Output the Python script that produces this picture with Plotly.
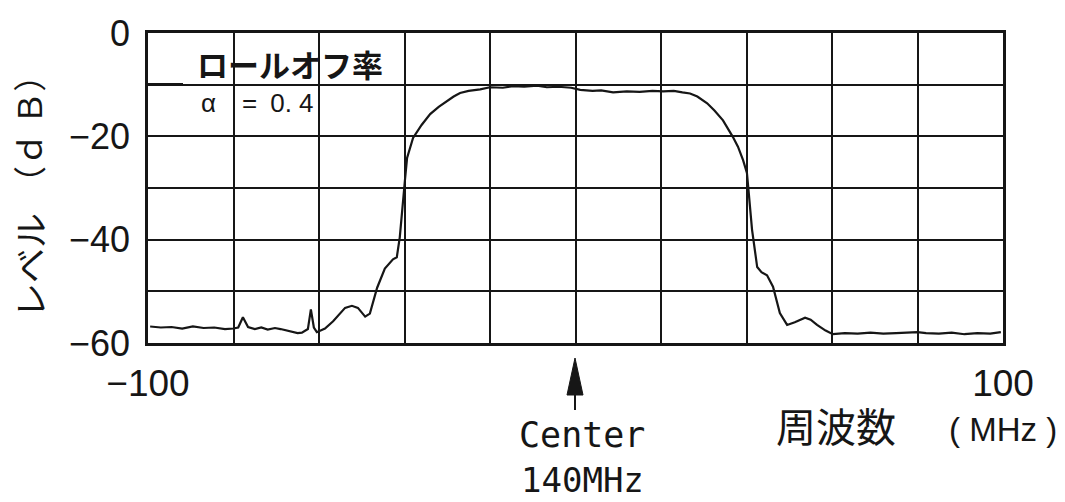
import plotly.graph_objects as go

# ---- data ----
freq_mhz = [-99.5, -97, -94.5, -92, -89.5, -87, -84.5, -82, -80, -78.9, -77.8, -76.6, -75, -73.5,
            -72, -70.3, -69, -68, -66.5, -65, -64, -62.6, -61.9, -61.2, -60.5, -58.6, -56.7, -55,
            -53.9, -52.3, -50.9, -49.2, -48.1, -46.4, -44.6, -42.7, -41.8, -41.1, -40.4, -39.9,
            -39.4, -38.0, -36, -34.0, -32, -30.1, -28.5, -27.0, -25, -22.3, -20, -17, -14.6, -12,
            -9, -6.7, -4, -1, 1.1, 4, 6, 8.8, 12, 15, 18, 20.5, 23, 25, 26.8, 28.5, 30.8, 32.5,
            34.5, 36.8, 38, 39.2, 40.1, 40.4, 41.3, 42.5, 43.5, 44.8, 46.2, 47.8, 49.5, 51.3, 53.7,
            55, 56.5, 58.5, 60.2, 63, 66, 69, 72, 75, 78, 80, 82, 85, 88, 91, 94, 97, 99.5]
level_db = [-56.8, -57.0, -56.9, -57.2, -56.8, -57.1, -57.0, -57.3, -57.2, -57.0, -55.0, -56.9, -57.3,
            -57.0, -57.4, -57.1, -57.3, -57.5, -57.8, -58.1, -58.0, -57.3, -53.5, -57.0, -57.9, -57.2,
            -55.8, -54.3, -53.2, -52.8, -53.2, -54.9, -54.3, -49.3, -45.6, -43.8, -43.4, -39.5, -32.4,
            -28.5, -24.2, -20.3, -17.8, -15.7, -14.3, -13.2, -12.3, -11.6, -11.2, -10.9, -10.5, -10.6,
            -10.3, -10.4, -10.2, -10.5, -10.4, -10.6, -11.0, -11.2, -11.1, -11.5, -11.3, -11.4, -11.2,
            -11.3, -11.2, -11.5, -11.7, -12.3, -13.6, -15.0, -16.9, -20.1, -22.0, -24.6, -27.1, -29.8,
            -38.1, -45.3, -46.3, -46.9, -49.1, -54.2, -56.5, -56.0, -55.1, -55.5, -56.5, -57.6, -58.3,
            -58.1, -58.2, -58.0, -58.2, -58.1, -57.9, -57.9, -58.1, -58.2, -58.0, -58.3, -58.1, -58.2,
            -57.9]

# grid positions and tick labels (blank = grid line only)
x_tickvals = [-100, -80, -60, -40, -20, 0, 20, 40, 60, 80, 100]
x_ticktext = ["\u2212100", "", "", "", "", "", "", "", "", "", "100"]
y_tickvals = [0, -10, -20, -30, -40, -50, -60]
y_ticktext = ["0", "", "\u221220", "", "\u221240", "", "\u221260"]

INK = "#161616"
W, H = 1065, 502
L, R, T, B = 148, 62, 33, 159
PW, PH = W - L - R, H - T - B


def px(xpix):
    return (xpix - L) / PW


def py(ypix):
    return (T + PH - ypix) / PH


fig = go.Figure()
fig.add_trace(go.Scatter(x=freq_mhz, y=level_db, mode="lines",
                         line=dict(color=INK, width=2.2), hoverinfo="skip", showlegend=False))

sans = "Liberation Sans, Arial, sans-serif"
fig.update_layout(
    width=W, height=H,
    margin=dict(l=L, r=R, t=T, b=B),
    paper_bgcolor="white", plot_bgcolor="white",
    font=dict(family=sans, color=INK),
    xaxis=dict(range=[-100, 100], showgrid=True, gridcolor=INK, gridwidth=2,
               zeroline=False, showline=True, linecolor=INK, linewidth=2.5, mirror=True,
               tickmode="array", tickvals=x_tickvals, ticktext=x_ticktext,
               tickfont=dict(size=37, family=sans, color=INK),
               ticks="", ticklabelstandoff=6),
    yaxis=dict(range=[-60, 0], showgrid=True, gridcolor=INK, gridwidth=2,
               zeroline=False, showline=True, linecolor=INK, linewidth=2.5, mirror=True,
               tickmode="array", tickvals=y_tickvals, ticktext=y_ticktext,
               tickfont=dict(size=36, family=sans, color=INK),
               ticks="", ticklabelstandoff=8),
)

# white box behind the roll-off label (covers grid)
fig.add_shape(type="rect", xref="paper", yref="paper", x0=px(149.5), x1=px(389), y0=py(118), y1=py(43),
              fillcolor="white", line=dict(width=0), layer="between")
fig.add_shape(type="line", xref="paper", yref="paper", x0=px(148), x1=px(183), y0=py(84), y1=py(84),
              line=dict(color=INK, width=2), layer="between")

# center arrow
ax = px(575)
hw = 8 / PW
fig.add_shape(type="path", xref="paper", yref="paper",
              path=f"M {ax} {py(358)} L {ax-hw} {py(395)} L {ax+hw} {py(395)} Z",
              fillcolor=INK, line=dict(color=INK, width=1))
fig.add_shape(type="line", xref="paper", yref="paper", x0=ax, x1=ax, y0=py(395), y1=py(410),
              line=dict(color=INK, width=2))

cjk = "Noto Sans CJK JP"
mono = "DejaVu Sans Mono"
ann = [
    dict(text="<b>ロールオフ率</b>", x=px(290), y=py(64), xanchor="center", yanchor="middle",
         font=dict(family=cjk, size=31, color=INK)),
    dict(text="α\u2003=\u20020. 4", x=px(199), y=py(103), xanchor="left", yanchor="middle",
         font=dict(family=sans, size=26, color=INK)),
    dict(text="レベル", x=px(28), y=py(266), xanchor="center", yanchor="middle", textangle=-90,
         font=dict(family=cjk, size=35, color=INK)),
    dict(text="（ｄ\u2005Ｂ）", x=px(28), y=py(129), xanchor="center", yanchor="middle", textangle=-90,
         font=dict(family=cjk, size=33, color=INK)),
    dict(text="Center", x=px(582), y=py(435), xanchor="center", yanchor="middle",
         font=dict(family=mono, size=35, color=INK)),
    dict(text="140MHz", x=px(582), y=py(480), xanchor="center", yanchor="middle",
         font=dict(family=mono, size=34, color=INK)),
    dict(text="周波数", x=px(836), y=py(425), xanchor="center", yanchor="middle",
         font=dict(family=cjk, size=40, color=INK)),
    dict(text="( MHz )", x=px(1003), y=py(429), xanchor="center", yanchor="middle",
         font=dict(family=sans, size=33, color=INK)),
]
for a in ann:
    fig.add_annotation(xref="paper", yref="paper", showarrow=False, **a)

fig.write_html("out.html", config={"displayModeBar": False},
               post_script="document.body.style.margin='0';document.body.style.overflow='hidden';")
